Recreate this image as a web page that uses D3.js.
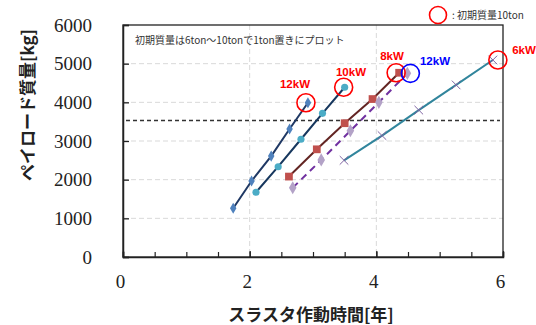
<!DOCTYPE html>
<html>
<head>
<meta charset="utf-8">
<script src="https://cdn.jsdelivr.net/npm/d3@7"></script>
<style>
  html, body { margin: 0; padding: 0; background: #fff; }
  svg { display: block; }
</style>
</head>
<body>
<svg id="chart" width="536" height="325"></svg>
<script>
// Thruster operating time [years] vs payload mass [kg], initial mass 6..10 ton
const initialMass = [6, 7, 8, 9, 10];

const seriesNames = ["12kW", "10kW", "8kW", "12kW", "6kW"];

const time12a = [1.74, 2.03, 2.34, 2.63, 2.92];
const payload12a = [1260, 1965, 2610, 3310, 3990];

const time10 = [2.10, 2.45, 2.81, 3.15, 3.50];
const payload10 = [1675, 2335, 3045, 3715, 4390];

const time8 = [2.62, 3.06, 3.50, 3.94, 4.36];
const payload8 = [2080, 2785, 3460, 4085, 4765];

const time12b = [2.68, 3.13, 3.59, 4.04, 4.49];
const payload12b = [1790, 2510, 3265, 4000, 4750];

const time6 = [3.49, 4.09, 4.67, 5.26, 5.84];
const payload6 = [2500, 3140, 3800, 4450, 5095];

const referencePayload = 3530;

const xTicks = [0, 2, 4, 6];
const xMinorTicks = [0, 0.5, 1, 1.5, 2, 2.5, 3, 3.5, 4, 4.5, 5, 5.5, 6];
const yTicks = [0, 1000, 2000, 3000, 4000, 5000, 6000];

const svg = d3.select("#chart");
const plotLeft = 123, plotRight = 503, plotTop = 25, plotBottom = 257;

const x = d3.scaleLinear().domain([0, 6]).range([plotLeft, plotRight]);
const y = d3.scaleLinear().domain([0, 6000]).range([plotBottom, plotTop]);

const gridColor = "#d9d9d9";

// gridlines
svg.append("g").selectAll("line").data(yTicks.filter(v => v > 0 && v < 6000)).join("line")
  .attr("x1", plotLeft).attr("x2", plotRight)
  .attr("y1", d => y(d)).attr("y2", d => y(d))
  .attr("stroke", gridColor).attr("stroke-width", 1).attr("stroke-dasharray", "5,3");
svg.append("g").selectAll("line").data(xTicks.filter(v => v > 0 && v < 6)).join("line")
  .attr("y1", plotTop).attr("y2", plotBottom)
  .attr("x1", d => x(d)).attr("x2", d => x(d))
  .attr("stroke", gridColor).attr("stroke-width", 1).attr("stroke-dasharray", "5,3");

// frame
svg.append("rect").attr("x", plotLeft).attr("y", plotTop)
  .attr("width", plotRight - plotLeft).attr("height", plotBottom - plotTop)
  .attr("fill", "none").attr("stroke", "#222").attr("stroke-width", 1.3);

// axes
const yAxis = d3.axisLeft(y).tickValues(yTicks).tickSize(-6).tickPadding(10).tickFormat(d3.format("d"));
const gy = svg.append("g").attr("transform", `translate(${plotLeft},0)`).call(yAxis);
gy.select(".domain").attr("stroke", "#222").attr("stroke-width", 1.5);
gy.selectAll(".tick line").attr("stroke", "#222").attr("stroke-width", 1.3);
gy.selectAll("text").attr("font-family", "'Liberation Serif', 'Times New Roman', serif")
  .attr("font-size", 19).attr("fill", "#222").attr("x", -31);

const gx = svg.append("g").attr("transform", `translate(0,${plotBottom})`);
gx.call(d3.axisBottom(x).tickValues(xMinorTicks).tickSize(-5).tickFormat(""));
gx.select(".domain").attr("stroke", "#222").attr("stroke-width", 1.5);
gx.selectAll(".tick line").attr("stroke", "#222").attr("stroke-width", 1.2);
const gx2 = svg.append("g").attr("transform", `translate(0,${plotBottom})`);
gx2.call(d3.axisBottom(x).tickValues(xTicks).tickSize(-6).tickPadding(18).tickFormat(d3.format("d")));
gx2.select(".domain").remove();
gx2.selectAll(".tick line").attr("stroke", "#222").attr("stroke-width", 1.3);
gx2.selectAll("text").attr("font-family", "'Liberation Serif', 'Times New Roman', serif")
  .attr("font-size", 19).attr("fill", "#222").attr("dx", -3);

// axis titles
svg.append("text").attr("x", 311).attr("y", 321).attr("text-anchor", "middle")
  .attr("font-family", "'Noto Sans CJK JP', sans-serif").attr("font-weight", "bold")
  .attr("font-size", 17).attr("fill", "#222").text("スラスタ作動時間[年]");
svg.append("text").attr("transform", "translate(34,105) rotate(-90)").attr("text-anchor", "middle")
  .attr("font-family", "'Noto Sans CJK JP', sans-serif").attr("font-weight", "bold")
  .attr("font-size", 17).attr("fill", "#222").text("ペイロード質量[kg]");

// reference payload line
svg.append("line").attr("x1", plotLeft + 3).attr("x2", plotRight - 3)
  .attr("y1", y(referencePayload)).attr("y2", y(referencePayload))
  .attr("stroke", "#333").attr("stroke-width", 1.3).attr("stroke-dasharray", "4,3");

// note inside plot
svg.append("text").attr("x", 135).attr("y", 44)
  .attr("font-family", "'Noto Sans CJK JP', sans-serif").attr("font-size", 10)
  .attr("fill", "#333").text("初期質量は6ton～10tonで1ton置きにプロット");

const line = d3.line().x(d => x(d[0])).y(d => y(d[1]));
const zip = (a, b) => a.map((v, i) => [v, b[i]]);

const series = [
  { pts: zip(time12a, payload12a), stroke: "#1f3864", dash: null, marker: d3.symbolDiamond, size: 36, fill: "#4f81bd" },
  { pts: zip(time10, payload10), stroke: "#17375e", dash: null, marker: d3.symbolCircle, size: 40, fill: "#4bacc6" },
  { pts: zip(time8, payload8), stroke: "#632523", dash: null, marker: d3.symbolSquare, size: 60, fill: "#c0504d" },
  { pts: zip(time12b, payload12b), stroke: "#7030a0", dash: "7,5", marker: d3.symbolDiamond, size: 50, fill: "#b3a2c7" },
  { pts: zip(time6, payload6), stroke: "#31859c", dash: null, marker: d3.symbolX, size: 50, fill: "none", markStroke: "#8064a2" }
];

series.forEach(s => {
  svg.append("path").datum(s.pts).attr("d", line)
    .attr("fill", "none").attr("stroke", s.stroke).attr("stroke-width", 2)
    .attr("stroke-dasharray", s.dash);
  svg.append("g").selectAll("path").data(s.pts).join("path")
    .attr("transform", d => `translate(${x(d[0])},${y(d[1])})`)
    .attr("d", d3.symbol().type(s.marker).size(s.size))
    .attr("fill", s.fill)
    .attr("stroke", s.markStroke || "none").attr("stroke-width", 1);
});

// highlight rings on the 10 ton point of each series, with labels
const ringColors = ["#ff0000", "#ff0000", "#ff0000", "#0000ff", "#ff0000"];
const ringShift = [-2, -1, -3, 3, 5];
const labelPos = [[295, 88], [351, 76], [392, 60], [435, 65], [524, 54]];
series.forEach((s, i) => {
  const p = s.pts[s.pts.length - 1];
  svg.append("circle").attr("cx", x(p[0]) + ringShift[i]).attr("cy", y(p[1]))
    .attr("r", 9).attr("fill", "none").attr("stroke", ringColors[i]).attr("stroke-width", 1.6);
  svg.append("text").attr("x", labelPos[i][0]).attr("y", labelPos[i][1]).attr("text-anchor", "middle")
    .attr("font-family", "'Liberation Sans', Arial, sans-serif").attr("font-weight", "bold")
    .attr("font-size", 11.5).attr("fill", ringColors[i]).text(seriesNames[i]);
});

// legend
svg.append("circle").attr("cx", 438).attr("cy", 15).attr("r", 8.5)
  .attr("fill", "none").attr("stroke", "#ff0000").attr("stroke-width", 1.6);
svg.append("text").attr("x", 452).attr("y", 18.5)
  .attr("font-family", "'Noto Sans CJK JP', sans-serif").attr("font-size", 10)
  .attr("fill", "#333").text(": 初期質量10ton");
</script>
</body>
</html>
